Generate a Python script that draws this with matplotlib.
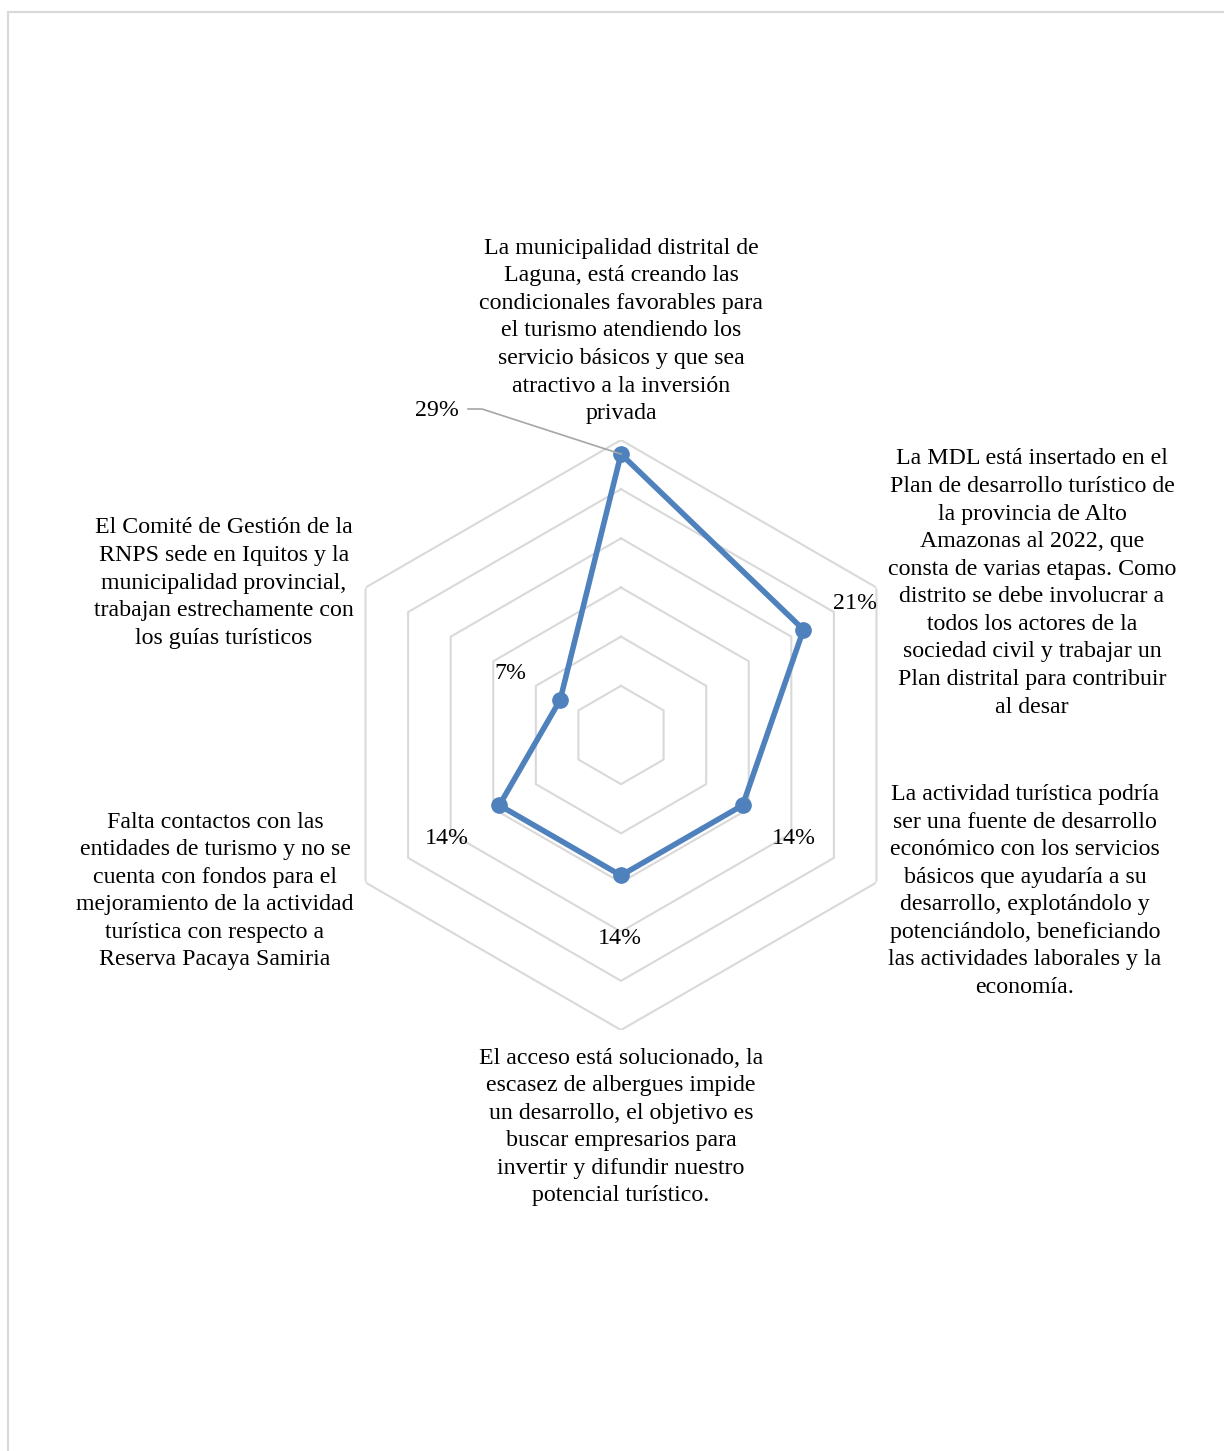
import numpy as np
import matplotlib

matplotlib.use("Agg")
import matplotlib.pyplot as plt
from matplotlib.patches import Rectangle

# answers per statement, out of 14 interviewees
categories = [
    "La municipalidad distrital de\nLaguna, está creando las\ncondicionales favorables para\n"
    "el turismo atendiendo los\nservicio básicos y que sea\natractivo a la inversión\nprivada",
    "La MDL está insertado en el\nPlan de desarrollo turístico de\nla provincia de Alto\n"
    "Amazonas al 2022, que\nconsta de varias etapas. Como\ndistrito se debe involucrar a\n"
    "todos los actores de la\nsociedad civil y trabajar un\nPlan distrital para contribuir\nal desar",
    "La actividad turística podría\nser una fuente de desarrollo\neconómico con los servicios\n"
    "básicos que ayudaría a su\ndesarrollo, explotándolo y\npotenciándolo, beneficiando\n"
    "las actividades laborales y la\neconomía.",
    "El acceso está solucionado, la\nescasez de albergues impide\nun desarrollo, el objetivo es\n"
    "buscar empresarios para\ninvertir y difundir nuestro\npotencial turístico.",
    "Falta contactos con las\nentidades de turismo y no se\ncuenta con fondos para el\n"
    "mejoramiento de la actividad\nturística con respecto a\nReserva Pacaya Samiria",
    "El Comité de Gestión de la\nRNPS sede en Iquitos y la\nmunicipalidad provincial,\n"
    "trabajan estrechamente con\nlos guías turísticos",
]
values = [4 / 14, 3 / 14, 2 / 14, 2 / 14, 2 / 14, 1 / 14]
value_labels = ["29%", "21%", "14%", "14%", "14%", "7%"]
ring_levels = [0.05, 0.10, 0.15, 0.20, 0.25, 0.30]

W, H = 1224, 1451
plt.rcParams["font.family"] = ["Liberation Serif", "DejaVu Serif"]
fig = plt.figure(figsize=(W / 100, H / 100), dpi=100)


def fx(px):
    return px / W


def fy(py):
    return 1 - py / H


# outer frame of the chart area
fig.patches.append(Rectangle((fx(7.5), -0.01), 1.1, fy(11.5) + 0.01, transform=fig.transFigure,
                             fill=False, edgecolor="#D9D9D9", lw=1.5))

cx, cy, R = 621, 735, 295
ax = fig.add_axes([fx(cx - R), fy(cy + R), (2 * R) / W, (2 * R) / H], projection="polar")
ax.set_theta_offset(np.pi / 2)
ax.set_theta_direction(-1)
ax.set_ylim(0, ring_levels[-1])
ax.axis("off")

n = len(values)
theta = np.linspace(0, 2 * np.pi, n, endpoint=False)
theta_c = np.append(theta, theta[0])

for lvl in ring_levels:
    ax.plot(theta_c, [lvl] * (n + 1), color="#D9D9D9", lw=1.5, zorder=1)

vals_c = values + values[:1]
ax.plot(theta_c, vals_c, color="#4F81BD", lw=4.0, zorder=3, solid_joinstyle="round")
ax.plot(theta, values, "o", color="#4F81BD", ms=11, zorder=4)

fs = 17.2
# data labels (figure pixel positions of label centres)
label_pos = [(437, 410), (855, 603), (794, 838), (620, 938), (447, 838), (510, 673)]
for (px, py), txt in zip(label_pos, value_labels):
    fig.text(fx(px), fy(py), txt, ha="center", va="center", fontsize=fs, color="#000000")

# leader line for the 29% label
p0 = ax.transData.transform((theta[0], values[0]))
p0 = fig.transFigure.inverted().transform(p0)
fig.add_artist(plt.Line2D([fx(468), fx(482), p0[0]], [fy(409), fy(409), p0[1]],
                          color="#A6A6A6", lw=1.2, transform=fig.transFigure, zorder=2))

# category labels
cat_pos = [(621, 331), (1032, 583), (1025, 891), (621, 1127), (215, 891), (224, 583)]
for (px, py), txt in zip(cat_pos, categories):
    fig.text(fx(px), fy(py), txt, ha="center", va="center", fontsize=fs,
             multialignment="center", linespacing=1.41, color="#000000")

fig.savefig("out.png", dpi=100)
